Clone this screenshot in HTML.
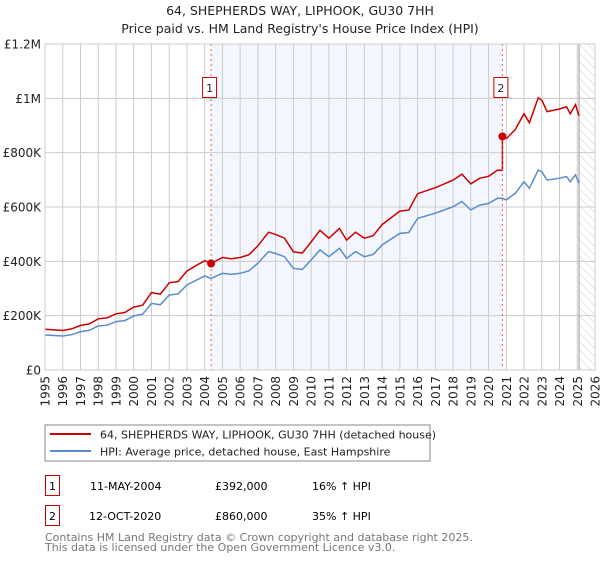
<!DOCTYPE html>
<html><head><meta charset="utf-8"><style>
body{margin:0;background:#fff;font-family:"DejaVu Sans","Liberation Sans",sans-serif;}
svg text{font-family:"DejaVu Sans","Liberation Sans",sans-serif;}
</style></head><body>
<svg id="chart" width="600" height="560" xmlns="http://www.w3.org/2000/svg">
<defs><pattern id="hatch" width="6" height="6" patternUnits="userSpaceOnUse" patternTransform="rotate(-45)"><line x1="0" y1="0" x2="0" y2="6" stroke="#ccc" stroke-width="1"/></pattern></defs>
<text x="300" y="15" text-anchor="middle" font-size="12.5" fill="#222">64, SHEPHERDS WAY, LIPHOOK, GU30 7HH</text>
<text x="300" y="33" text-anchor="middle" font-size="12.5" fill="#222">Price paid vs. HM Land Registry's House Price Index (HPI)</text>
<g id="plot"></g>
<rect x="45" y="425" width="385" height="36" fill="#fff" stroke="#888"/>
<line x1="50" y1="434" x2="91" y2="434" stroke="#cc0000" stroke-width="2"/>
<text x="100" y="438.5" font-size="11" fill="#222">64, SHEPHERDS WAY, LIPHOOK, GU30 7HH (detached house)</text>
<line x1="50" y1="451" x2="91" y2="451" stroke="#5b8ccc" stroke-width="2"/>
<text x="100" y="455.5" font-size="11" fill="#222">HPI: Average price, detached house, East Hampshire</text>
<g>
<rect x="45.5" y="475.5" width="14" height="20" fill="#fff" stroke="#cc0000"/>
<text x="52.5" y="490" text-anchor="middle" font-size="11">1</text>
<text x="90" y="490" font-size="11">11-MAY-2004</text>
<text x="215" y="490" font-size="11">£392,000</text>
<text x="312" y="490" font-size="11">16% ↑ HPI</text></g>
<g>
<rect x="45.5" y="505.5" width="14" height="20" fill="#fff" stroke="#cc0000"/>
<text x="52.5" y="520" text-anchor="middle" font-size="11">2</text>
<text x="89" y="520" font-size="11">12-OCT-2020</text>
<text x="215" y="520" font-size="11">£860,000</text>
<text x="312" y="520" font-size="11">35% ↑ HPI</text></g>
<text x="45" y="541" font-size="11" fill="#777">Contains HM Land Registry data © Crown copyright and database right 2025.</text>
<text x="45" y="551" font-size="11" fill="#777">This data is licensed under the Open Government Licence v3.0.</text>
</svg>
<script>
const hpiYears=[1995,1995.5,1996,1996.5,1997,1997.5,1998,1998.5,1999,1999.5,2000,2000.5,2001,2001.5,2002,2002.5,2003,2003.5,2004,2004.36,2005,2005.5,2006,2006.5,2007,2007.6,2008,2008.5,2009,2009.5,2010,2010.5,2011,2011.6,2012,2012.5,2013,2013.5,2014,2015,2015.5,2016,2017,2017.5,2018,2018.5,2019,2019.5,2020,2020.5,2020.78,2021,2021.5,2022,2022.3,2022.8,2023,2023.3,2024,2024.4,2024.6,2024.9,2025.1];
const hpiValues=[129,127,125,130,141,146,162,165,178,182,199,205,245,240,276,280,313,330,346,337,356,352,356,365,393,436,429,417,374,370,405,442,417,448,411,436,417,425,460,503,506,558,577,589,601,620,589,607,613,632,632,626,650,693,669,736,730,699,706,712,693,718,687];
const sales=[{year:2004.36,price:392000,label:"1"},{year:2020.78,price:860000,label:"2"}];
const yTicks=[0,200000,400000,600000,800000,1000000,1200000];
const yTickLabels=["£0","£200K","£400K","£600K","£800K","£1M","£1.2M"];
const xTicks=[1995,1996,1997,1998,1999,2000,2001,2002,2003,2004,2005,2006,2007,2008,2009,2010,2011,2012,2013,2014,2015,2016,2017,2018,2019,2020,2021,2022,2023,2024,2025,2026];
const hpiBase=[337,632];

const X0=45,X1=595,Y0=370,Y1=44,xmin=1995,xmax=2026,ymax=1200000;
const xs=v=>X0+(v-xmin)/(xmax-xmin)*(X1-X0);
const ys=v=>Y0-v/ymax*(Y0-Y1);
const NS="http://www.w3.org/2000/svg";
const g=document.getElementById('plot');
function mk(t,a){const e=document.createElementNS(NS,t);for(const k in a)e.setAttribute(k,a[k]);g.appendChild(e);return e;}
let e=mk('rect',{x:xs(sales[0].year),y:Y1,width:xs(sales[1].year)-xs(sales[0].year),height:Y0-Y1,fill:'#eef3fc',opacity:0.7});


e=mk('rect',{x:xs(2025.1),y:Y1,width:X1-xs(2025.1),height:Y0-Y1,fill:'url(#hatch)'});


xTicks.forEach(t=>{const x=xs(t);
 let l=mk('line',{x1:x,x2:x,y1:Y1,y2:Y0,stroke:'#ccc','stroke-width':1});
 
 
 let tx=mk('text',{x:0,y:0,transform:`translate(${x+4.5},${Y0+6}) rotate(-90)`,'text-anchor':'end','font-size':12,fill:'#222'});
 tx.textContent=t;
 
 
});
yTicks.forEach((t,i)=>{const y=ys(t);
 let l=mk('line',{x1:X0,x2:X1,y1:y,y2:y,stroke:'#ccc','stroke-width':1});
 
 
 let tx=mk('text',{x:X0-4,y:y+4.5,'text-anchor':'end','font-size':12,fill:'#222'});
 tx.textContent=yTickLabels[i];
 
 
});
e=mk('line',{x1:xs(2025.1),x2:xs(2025.1),y1:Y1,y2:Y0,stroke:'#999','stroke-width':1});


let hp=hpiYears.map((yr,i)=>xs(yr).toFixed(1)+','+ys(hpiValues[i]*1000).toFixed(1)).join(' ');
e=mk('polyline',{points:hp,fill:'none',stroke:'#5b8ccc','stroke-width':1.5});


let pts=[];
hpiYears.forEach((yr,i)=>{
 let s=yr<sales[1].year?0:1;
 if(yr===sales[1].year){pts.push([yr,hpiValues[i]*1000*sales[0].price/(hpiBase[0]*1000)]);}
 pts.push([yr,hpiValues[i]*1000*sales[s].price/(hpiBase[s]*1000)]);
});
e=mk('polyline',{points:pts.map(p=>xs(p[0]).toFixed(1)+','+ys(p[1]).toFixed(1)).join(' '),fill:'none',stroke:'#cc0000','stroke-width':1.5});


sales.forEach(s=>{const x=xs(s.year);
 let l=mk('line',{x1:x,x2:x,y1:Y1,y2:Y0,stroke:'#e06060','stroke-width':1,'stroke-dasharray':'2,3'});
 
 
 let c=mk('circle',{cx:x,cy:ys(s.price),r:4,fill:'#cc0000'});
 
 
 let r=mk('rect',{x:x-8.5,y:77.5,width:14,height:20,fill:'#fff',stroke:'#cc0000'});
 
 
 let t=mk('text',{x:x-1.5,y:92,'text-anchor':'middle','font-size':11,fill:'#222'});
 t.textContent=s.label;
 
 
});
e=mk('rect',{x:X0,y:Y1,width:X1-X0,height:Y0-Y1,fill:'none',stroke:'#ccc'});


</script>
</body></html>
